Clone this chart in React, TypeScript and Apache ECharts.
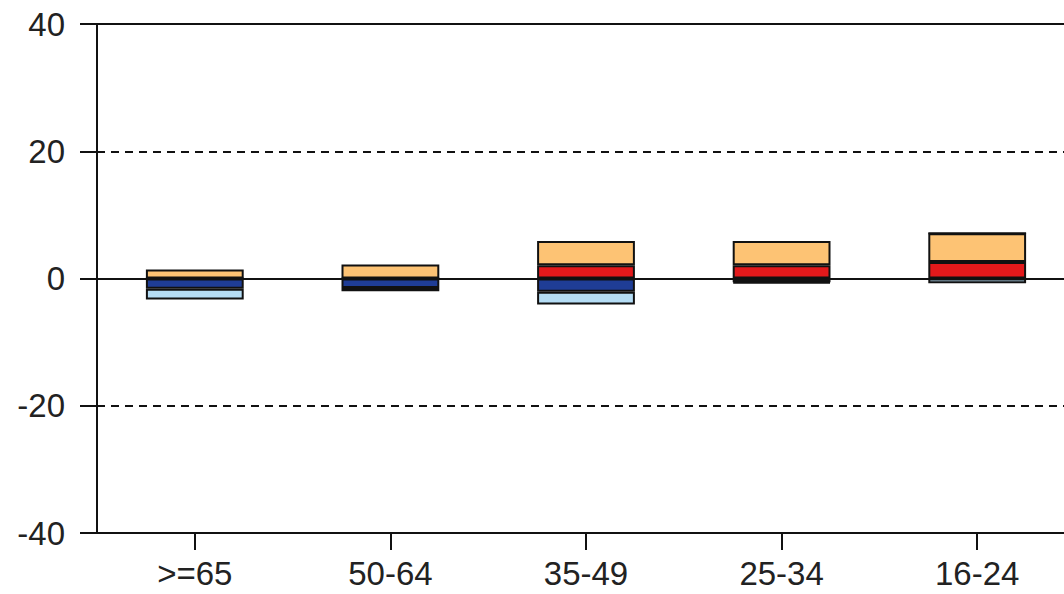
import React, { useEffect, useRef } from "react";
import * as echarts from "echarts";

const categories = [">=65", "50-64", "35-49", "25-34", "16-24"];
const redValues = [0, 0, 2.1, 2.1, 2.6];
const orangeValues = [1.4, 2.2, 3.8, 3.8, 4.5];
const darkBlueValues = [-1.6, -1.5, -2.1, -0.6, 0];
const lightBlueValues = [-1.7, -0.5, -2.0, -0.15, -0.75];
const yTicks = { min: -40, max: 40, interval: 20 };

const FONT = "'Liberation Sans', Arial, sans-serif";
const BORDER = { borderColor: "#111", borderWidth: 2 };

export default function App() {
  const ref = useRef<HTMLDivElement>(null);
  useEffect(() => {
    if (!ref.current) return;
    const chart = echarts.init(ref.current, null, { renderer: "svg" });
    const mk = (name: string, data: number[], color: string, extra: any = {}) => ({
      name,
      type: "bar",
      stack: "total",
      data,
      barWidth: "50%",
      itemStyle: { color, ...BORDER },
      ...extra,
    });
    chart.setOption({
      animation: false,
      backgroundColor: "#fff",
      grid: {
        left: 97,
        top: 24,
        width: 978,
        height: 509,
        containLabel: false,
        outerBoundsMode: "none",
      },
      xAxis: {
        type: "category",
        data: categories,
        axisLine: { onZero: false, lineStyle: { color: "#111", width: 2 } },
        axisTick: {
          show: true,
          alignWithLabel: true,
          length: 17,
          lineStyle: { color: "#111", width: 2 },
        },
        axisLabel: { fontFamily: FONT, fontSize: 33, color: "#222", margin: 24 },
      },
      yAxis: {
        type: "value",
        min: yTicks.min,
        max: yTicks.max,
        interval: yTicks.interval,
        axisLine: { show: true, lineStyle: { color: "#111", width: 2 } },
        axisTick: { show: true, length: 17, lineStyle: { color: "#111", width: 2 } },
        axisLabel: { fontFamily: FONT, fontSize: 33, color: "#222", margin: 32 },
        splitLine: { show: true, lineStyle: { color: "#111", width: 2, type: [8, 6] } },
      },
      series: [
        mk("red", redValues, "#e3191b", {
          markLine: {
            silent: true,
            symbol: "none",
            label: { show: false },
            lineStyle: { color: "#111", width: 2, type: "solid" },
            data: [{ yAxis: 0 }, { yAxis: 40 }],
            z: 1,
          },
        }),
        mk("orange", orangeValues, "#fdc374"),
        mk("darkblue", darkBlueValues, "#1f3d96"),
        mk("lightblue", lightBlueValues, "#b5ddf5"),
      ],
    });
    return () => chart.dispose();
  }, []);
  return (
    <div
      ref={ref}
      style={{ position: "fixed", left: 0, top: 0, width: 1064, height: 594 }}
    />
  );
}
